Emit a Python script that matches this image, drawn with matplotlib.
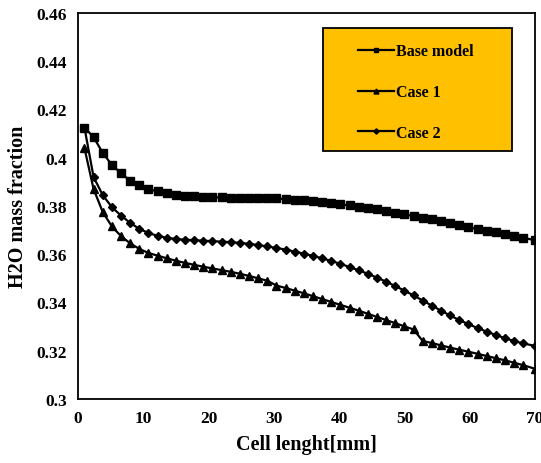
import matplotlib.pyplot as plt
from matplotlib.patches import Rectangle

plt.rcParams['font.family'] = ['Liberation Serif', 'DejaVu Serif']
plt.rcParams['font.weight'] = 'bold'

# Posición a lo largo de la celda [mm]
x_mm = [1.0, 2.4, 3.8, 5.2, 6.6, 8.0, 9.4, 10.8, 12.2, 13.6,
        15.0, 16.4, 17.8, 19.2, 20.6, 22.0, 23.4, 24.8, 26.2, 27.6,
        29.0, 30.4, 31.8, 33.2, 34.6, 36.0, 37.4, 38.8, 40.2, 41.6,
        43.0, 44.4, 45.8, 47.2, 48.6, 50.0, 51.4, 52.8, 54.2, 55.6,
        57.0, 58.4, 59.8, 61.2, 62.6, 64.0, 65.4, 66.8, 68.2, 70.0]

base_model = [0.4125, 0.4085, 0.4020, 0.3970, 0.3935, 0.3905, 0.3885, 0.3870, 0.3860, 0.3853,
              0.3847, 0.3843, 0.3840, 0.3838, 0.3836, 0.3835, 0.3834, 0.3834, 0.3833, 0.3833,
              0.3832, 0.3831, 0.3829, 0.3826, 0.3823, 0.3820, 0.3816, 0.3812, 0.3807, 0.3802,
              0.3797, 0.3792, 0.3786, 0.3779, 0.3772, 0.3765, 0.3758, 0.3751, 0.3744, 0.3736,
              0.3728, 0.3720, 0.3712, 0.3704, 0.3697, 0.3690, 0.3682, 0.3675, 0.3668, 0.3658]

case_1 = [0.4040, 0.3870, 0.3775, 0.3715, 0.3675, 0.3645, 0.3622, 0.3605, 0.3594, 0.3583,
          0.3573, 0.3564, 0.3556, 0.3548, 0.3541, 0.3534, 0.3527, 0.3519, 0.3510, 0.3500,
          0.3490, 0.3470, 0.3460, 0.3449, 0.3438, 0.3426, 0.3414, 0.3402, 0.3390, 0.3378,
          0.3366, 0.3353, 0.3340, 0.3327, 0.3314, 0.3301, 0.3288, 0.3240, 0.3232, 0.3222,
          0.3213, 0.3204, 0.3196, 0.3187, 0.3178, 0.3169, 0.3160, 0.3150, 0.3140, 0.3125]

case_2 = [0.4125, 0.3920, 0.3845, 0.3795, 0.3760, 0.3730, 0.3705, 0.3688, 0.3676, 0.3668,
          0.3663, 0.3660, 0.3658, 0.3656, 0.3654, 0.3652, 0.3650, 0.3647, 0.3643, 0.3638,
          0.3632, 0.3626, 0.3619, 0.3611, 0.3602, 0.3593, 0.3583, 0.3572, 0.3560, 0.3547,
          0.3533, 0.3519, 0.3503, 0.3486, 0.3468, 0.3449, 0.3429, 0.3408, 0.3387, 0.3366,
          0.3346, 0.3327, 0.3310, 0.3294, 0.3279, 0.3265, 0.3252, 0.3240, 0.3230, 0.3220]

y_ticks = [0.3, 0.32, 0.34, 0.36, 0.38, 0.4, 0.42, 0.44, 0.46]
y_tick_labels = ['0.3', '0.32', '0.34', '0.36', '0.38', '0.4', '0.42', '0.44', '0.46']
x_ticks = [0, 10, 20, 30, 40, 50, 60, 70]

fig = plt.figure(figsize=(5.41, 4.64), dpi=100)
ax = fig.add_axes([0.144, 0.138, 0.845, 0.832])

ax.plot(x_mm, base_model, color='black', lw=1.6, marker='s', ms=5.5, label='Base model')
ax.plot(x_mm, case_1, color='black', lw=1.6, marker='^', ms=6, label='Case 1')
ax.plot(x_mm, case_2, color='black', lw=1.6, marker='D', ms=4.5, label='Case 2')

ax.set_xlim(0, 70)
ax.set_ylim(0.3, 0.46)
ax.set_xticks(x_ticks)
ax.set_yticks(y_ticks)
ax.set_yticklabels(y_tick_labels)
ax.tick_params(length=0, labelsize=12.5, pad=8)
for lbl in ax.get_xticklabels() + ax.get_yticklabels():
    lbl.set_fontweight('bold')
for s in ax.spines.values():
    s.set_linewidth(1.3)

ax.set_xlabel('Cell lenght[mm]', fontsize=14.5, fontweight='bold', labelpad=6)
ax.set_ylabel('H2O mass fraction', fontsize=14.5, fontweight='bold', labelpad=6)

# caja naranja de la leyenda
box = Rectangle((0.536, 0.642), 0.414, 0.319, transform=ax.transAxes,
                facecolor='#FFC000', edgecolor='black', lw=1.3, zorder=4)
ax.add_patch(box)

leg = ax.legend(loc='upper left', bbox_to_anchor=(0.612, 0.921),
                fontsize=11.5, labelspacing=1.55, handlelength=2.3, markerscale=0.6,
                borderpad=0, handletextpad=0.1, borderaxespad=0, frameon=False)
leg.set_zorder(5)
for t in leg.get_texts():
    t.set_fontweight('bold')

fig.savefig('out.png', dpi=100)
